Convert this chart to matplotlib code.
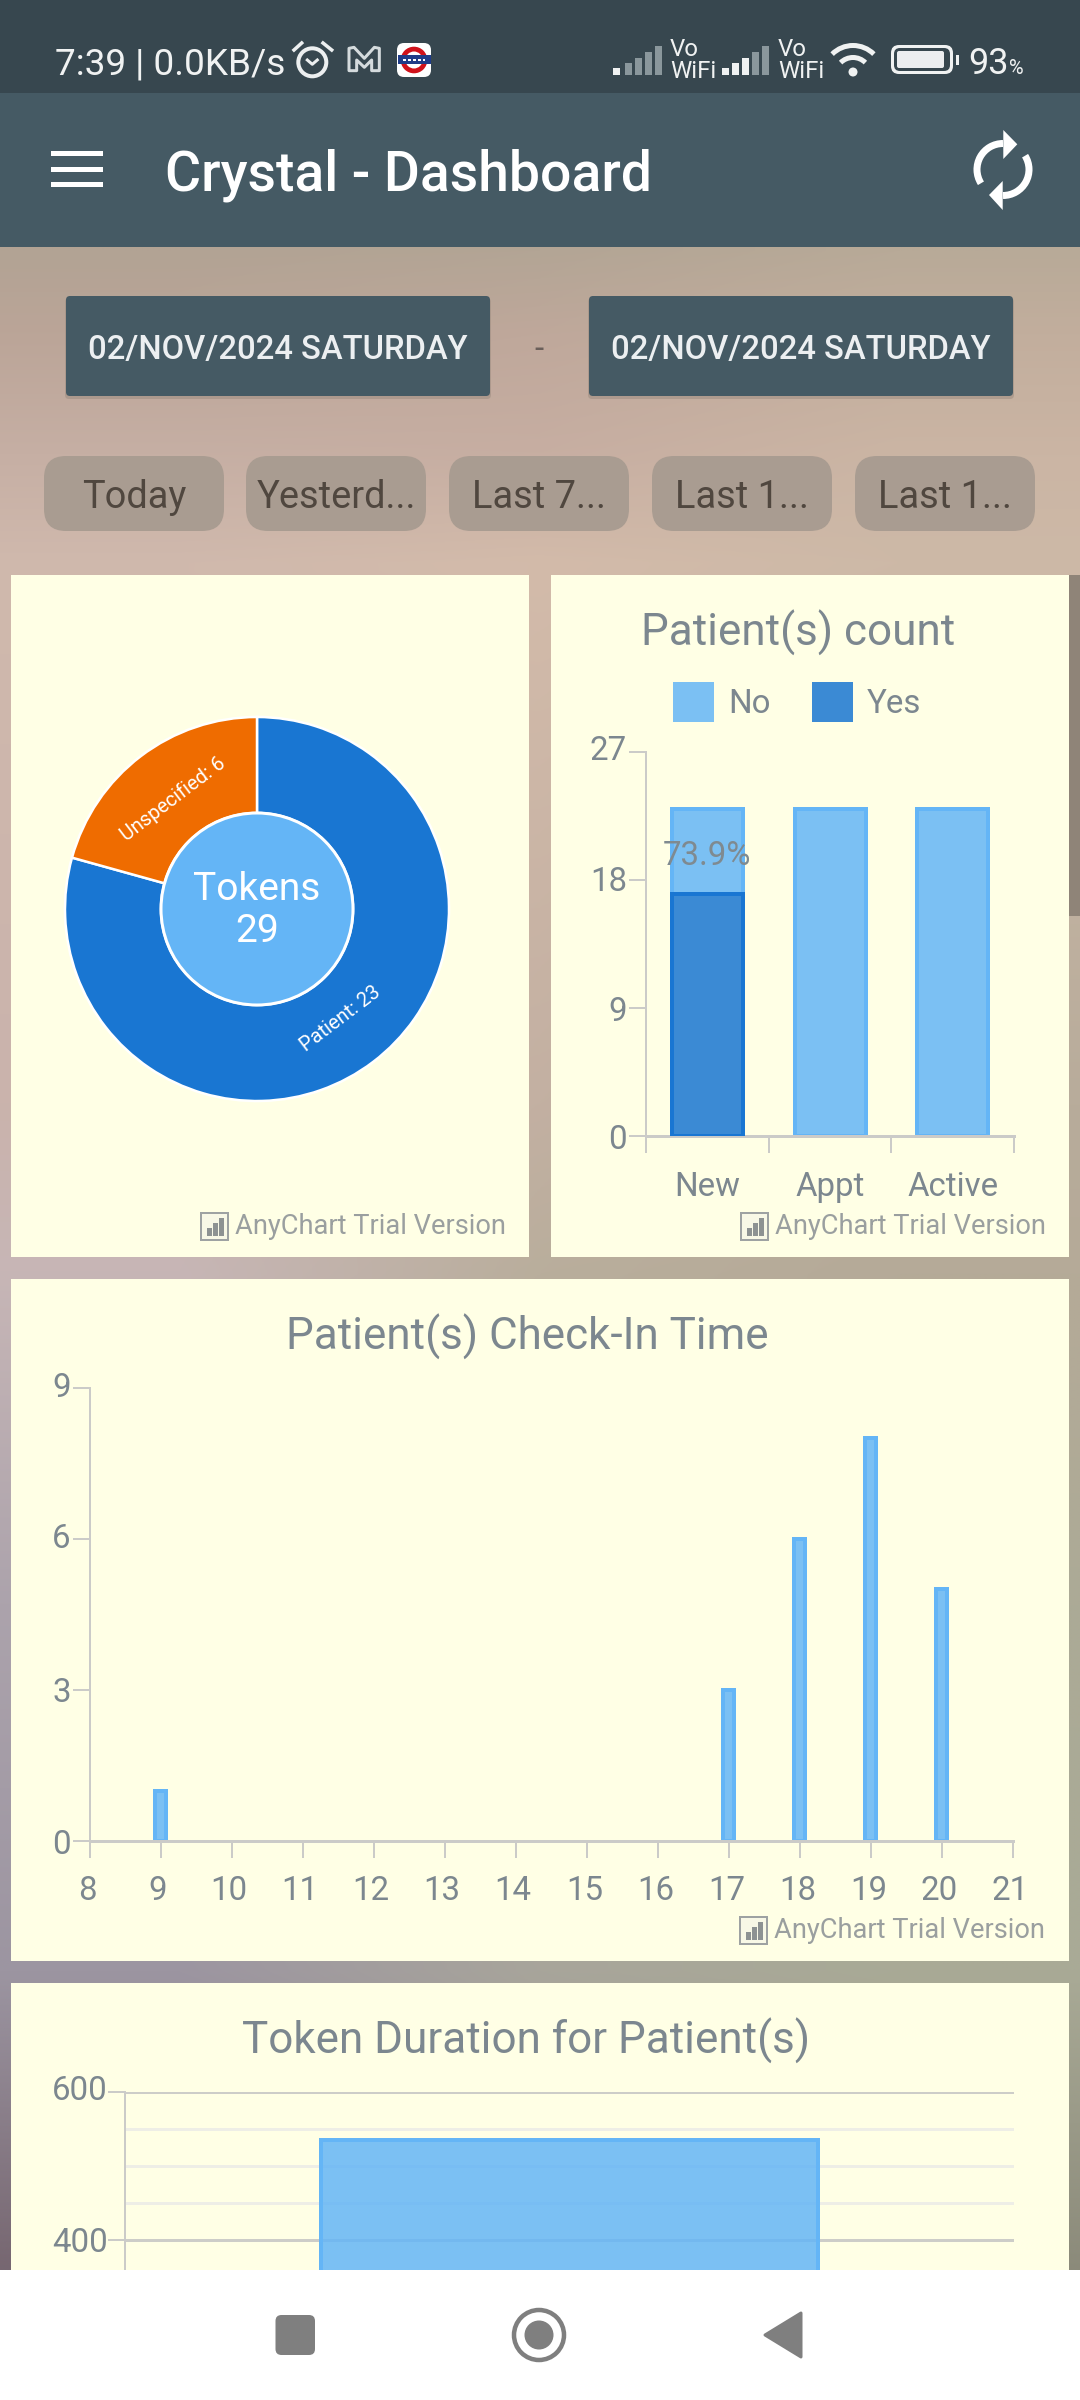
import numpy as np
import matplotlib
matplotlib.use("Agg")
import matplotlib.pyplot as plt
from matplotlib.colors import to_rgb
from matplotlib.patches import (Rectangle, FancyBboxPatch, Circle, Polygon, Arc, Patch)
from matplotlib.transforms import ScaledTranslation

W, H = 1080, 2400
plt.rcParams['font.family'] = ['Roboto', 'DejaVu Sans']

# ---- data ----
donut_labels = ['Patient', 'Unspecified']
donut_values = [23, 6]
center_title = 'Tokens'
center_value = 29

count_cats = ['New', 'Appt', 'Active']
count_yes = [17, 0, 0]
count_no = [6, 23, 23]
count_ticks = [0, 9, 18, 27]
count_note = '73.9%'

hours = [9, 17, 18, 19, 20]
checkins = [1, 3, 6, 8, 5]
hour_ticks = list(range(8, 22))
checkin_ticks = [0, 3, 6, 9]

duration_values = [535]
duration_major = [400, 600]
duration_minor = [450, 500, 550]

date_label = '02/NOV/2024 SATURDAY'
chip_labels = ['Today', 'Yesterd...', 'Last 7...', 'Last 1...', 'Last 1...']

# ---- styles ----
CARD = '#FFFFE5'
TXT = '#7C878F'
AXC = '#CBCBC8'
NOFILL, NOEDGE = '#64B5F6', '#64B5F6'
YESFILL, YESEDGE = '#1976D2', '#1976D2'
ICON = '#ECEFF0'
DIM = '#8A979C'
def px(v): return v * 0.72

fig = plt.figure(figsize=(W / 100, H / 100), dpi=100, facecolor='white')

def axes_px(l, t, r, b, z=1):
    ax = fig.add_axes([l / W, 1 - b / H, (r - l) / W, (b - t) / H], zorder=z)
    ax.patch.set_alpha(0)
    return ax

def nudge(label, dx, dy):
    label.set_transform(label.get_transform() + ScaledTranslation(dx / 100, dy / 100, fig.dpi_scale_trans))

# ---- background layer ----
bg = axes_px(0, 0, W, H, 0)
bg.axis('off')
bg_y = [247, 330, 450, 560, 1100, 1270, 1600, 1970, 2270]
bg_rows = [['#B2A394', '#B3A595', '#B8AA98'],
           ['#BBA598', '#BFA89B', '#C2AE9D'],
           ['#C6AFA4', '#C7AEA2', '#CBB5A4'],
           ['#D0B9AD', '#D3BBAA', '#CDB9A7'],
           ['#CAB3AC', '#C3B0A2', '#B8AC9B'],
           ['#C7B6B6', '#B9AE9C', '#B5AA98'],
           ['#ACA3AC', '#AEA79B', '#ACAA96'],
           ['#9C95A1', '#A8A59B', '#A9AA96'],
           ['#766670', '#8F8E80', '#8B8A7A']]
anchors = np.array([[to_rgb(c) for c in r] for r in bg_rows])
yy = np.arange(247, 2271, 8)
grid = np.stack([np.stack([np.interp(yy, bg_y, anchors[:, j, ch]) for ch in range(3)], axis=1)
                 for j in range(3)], axis=1)
bg.imshow(grid, extent=(0, W, 2270, 247), aspect='auto', interpolation='bilinear', zorder=0)
bg.set_xlim(0, W); bg.set_ylim(H, 0)

def rrect(ax, l, t, r, b, rad, fc, z=2, **kw):
    p = FancyBboxPatch((l + rad, t + rad), r - l - 2 * rad, b - t - 2 * rad,
                       boxstyle=f'round,pad={rad},rounding_size={rad}', fc=fc, ec='none',
                       zorder=z, **kw)
    ax.add_patch(p)
    return p

# top bars
bg.add_patch(Rectangle((0, 0), W, 93, fc='#37474F', ec='none', zorder=1))
bg.add_patch(Rectangle((0, 93), W, 154, fc='#455A64', ec='none', zorder=1))

# scrollbar
bg.add_patch(Rectangle((1069, 575), 11, 341, fc='#8F8478', ec='none', zorder=1))

# cards
for (l, t, r, b) in [(11, 575, 529, 1257), (551, 575, 1069, 1257),
                     (11, 1279, 1069, 1961), (11, 1983, 1069, 2290)]:
    bg.add_patch(Rectangle((l, t), r - l, b - t, fc=CARD, ec='none', zorder=2))

def T(x, y, s, size, color='white', ha='left', va='center', weight='normal', ax=bg, **kw):
    return ax.text(x, y, s, fontsize=px(size), color=color, ha=ha, va=va, weight=weight, zorder=6, **kw)

# status bar
T(55, 75, '7:39 | 0.0KB/s', 37, '#F0F2F2', va='baseline')
# alarm clock
bg.add_patch(Circle((312.3, 62.3), 14, fc='none', ec=ICON, lw=px(4), zorder=6))
bg.plot([294, 301.7], [50, 43], color=ICON, lw=px(3.5), zorder=6)
bg.plot([323, 331.7], [43, 50], color=ICON, lw=px(3.5), zorder=6)
bg.plot([307.3, 312.3, 317.3], [60, 64.3, 60], color=ICON, lw=px(3), zorder=6)
# M icon
m_pts = [(207, 122), (207, 55), (222, 52), (253, 85), (283, 52), (298, 55), (298, 122),
         (275, 122), (275, 90), (253, 112), (230, 90), (230, 122)]
bg.add_patch(Polygon([(280 + a / 3, 30 + b / 3) for a, b in m_pts], closed=True, fc='none',
                     ec='#D5DBDD', lw=px(3), joinstyle='round', zorder=6))
# metro icon
rrect(bg, 397, 43, 431, 77, 7, 'white', 6)
bg.add_patch(Circle((414, 60), 13.3, fc='#D0121B', ec='none', zorder=7))
bg.add_patch(Circle((414, 60), 8.5, fc='white', ec='none', zorder=7))
bg.add_patch(Rectangle((397.5, 55), 33, 9, fc='#1F3C88', ec='none', zorder=8))
bg.plot([403, 425], [60, 60], color='white', lw=px(2), ls=(0, (1.5, 1)), zorder=9)
# signal bars
bar_tops = [68, 63, 58, 52, 46]
for x0s, bright in (((613, 625, 635, 645, 655), 1), ((722, 732, 742, 752, 762), 3)):
    for i, (x0, tp) in enumerate(zip(x0s, bar_tops)):
        c = '#F0F2F2' if i < bright else DIM
        bg.add_patch(Rectangle((x0, tp), 6.5, 75 - tp, fc=c, ec='none', zorder=6))
for xv in (670, 778):
    T(xv, 50, 'Vo', 24, '#F0F2F2')
    T(xv, 71, 'WiFi', 24, '#F0F2F2')
# wifi
for r in (29.5, 17.5):
    bg.add_patch(Arc((853, 75), 2 * r, 2 * r, theta1=225, theta2=315, color='#F0F2F2', lw=px(5), zorder=6))
bg.add_patch(Circle((853, 72), 4.5, fc='#F0F2F2', ec='none', zorder=6))
# battery
rrect(bg, 891, 45, 953, 74, 8, '#F0F2F2', 6)
rrect(bg, 894, 48, 950, 71, 6, '#37474F', 6.5)
rrect(bg, 897, 51, 944, 68, 2, '#ECEEF0', 7)
bg.add_patch(Rectangle((956, 55), 3, 10, fc='#F0F2F2', ec='none', zorder=6))
T(968, 74, '93', 36, '#F0F2F2', va='baseline')
T(1009, 74, '%', 20, '#F0F2F2', va='baseline')

# app bar
for y in (153, 169, 184):
    bg.add_patch(Rectangle((51, y - 2.5), 52, 5, fc='white', ec='none', zorder=6))
T(165, 191, 'Crystal - Dashboard', 55.2, 'white', va='baseline', weight='medium')
# refresh icon
bg.add_patch(Arc((1003, 169.5), 52, 52, theta1=148, theta2=270, color='white', lw=px(7), zorder=6))
bg.add_patch(Arc((1003, 169.5), 52, 52, theta1=-32, theta2=90, color='white', lw=px(7), zorder=6))
bg.add_patch(Polygon([[1003.3, 130], [1017.3, 144.3], [1003.3, 159]], fc='white', ec='none', zorder=6))
bg.add_patch(Polygon([[1002.7, 181], [989, 195], [1002.7, 210]], fc='white', ec='none', zorder=6))

# date buttons
for l in (66, 589):
    rrect(bg, l - 1, 298, l + 425, 399, 4, '#A08F83', 2.5, alpha=0.6)
    rrect(bg, l, 296, l + 424, 396, 4, '#455A64', 3)
    T(l + 212, 350, date_label, 32.8, '#ECEFF1', ha='center', weight='medium')
T(539, 350, '-', 33, '#6A5F5A', ha='center')

# chips
for (l, s) in zip((44, 246, 449, 652, 855), chip_labels):
    rrect(bg, l, 456, l + 180, 531, 22, '#A99C91', 3)
    T(l + 90, 498, s, 38, '#50473F', ha='center')

# ---- donut ----
cx, cy, R = 257, 909, 192
a1 = axes_px(cx - R, cy - R, cx + R, cy + R, 2)
wedges, _ = a1.pie(donut_values, colors=['#1976D2', '#EF6C00'], startangle=90, counterclock=False,
                   radius=1.0, wedgeprops=dict(width=1 - 96 / R, edgecolor='white', linewidth=px(2.5)))
a1.set_xlim(-1, 1); a1.set_ylim(-1, 1); a1.set_aspect('auto')
for w in wedges:
    w.set_clip_on(False)
a1.add_patch(Circle((0, 0), 96 / R, fc='#64B5F6', ec='white', lw=px(3), zorder=5, clip_on=False))
a1.text(0, 20 / R, center_title, color='white', fontsize=px(39), ha='center', va='center', zorder=6)
a1.text(0, -23 / R, str(center_value), color='white', fontsize=px(39), ha='center', va='center', zorder=6)
for w, lab, v in zip(wedges, donut_labels, donut_values):
    mid = np.deg2rad((w.theta1 + w.theta2) / 2)
    r = 138 / R
    rot = np.rad2deg(mid) % 180 - 90
    a1.text(r * np.cos(mid), r * np.sin(mid), f'{lab}: {v}', color='white', fontsize=px(20),
            rotation=rot, rotation_mode='anchor', ha='center', va='center', zorder=6)

# ---- shared chart styling ----
def style(ax, left_lw=2.0, bottom_lw=3.0):
    for s in ('top', 'right'):
        ax.spines[s].set_visible(False)
    ax.spines['left'].set_color(AXC); ax.spines['left'].set_linewidth(px(left_lw))
    ax.spines['bottom'].set_color(AXC); ax.spines['bottom'].set_linewidth(px(bottom_lw))
    ax.tick_params(axis='y', length=px(17), width=px(2), color=AXC, labelcolor=TXT,
                   labelsize=px(33), pad=px(2))
    ax.tick_params(axis='x', labelcolor=TXT, labelsize=px(33))

def title(ax, box, s, cxp, base):
    l, t, r, b = box
    ax.set_title(s, x=(cxp - l) / (r - l), y=(b - base) / (b - t), color=TXT, fontsize=px(44),
                 ha='center', va='baseline', pad=0)

def trial(ax, il, yc):
    ax.add_patch(Rectangle((il, yc - 13.5), 27, 27, fc='#F8F8E6', ec='#9EA2A2', lw=px(2), zorder=6))
    for dx, h in ((6, 8), (12, 13), (18, 18)):
        ax.add_patch(Rectangle((il + dx, yc + 10 - h), 4.5, h, fc='#8D9292', ec='none', zorder=7))
    T(il + 34, yc, 'AnyChart Trial Version', 27.3, '#9A9F9F', ax=ax)

# ---- count chart ----
box2 = (646, 752, 1014, 1136)
a2 = axes_px(*box2, 2)
xs = np.arange(len(count_cats)) + 0.5
bw = 71 / (368 / 3)
a2.bar(xs, count_no, bw, bottom=count_yes, color=NOFILL, alpha=0.85, edgecolor='none', zorder=2)
a2.bar(xs, count_no, bw, bottom=count_yes, fill=False, edgecolor=NOEDGE, linewidth=px(4), zorder=2.5)
a2.bar(xs[:1], count_yes[:1], bw, color=YESFILL, alpha=0.85, edgecolor='none', zorder=3)
a2.bar(xs[:1], count_yes[:1], bw, fill=False, edgecolor=YESEDGE, linewidth=px(4), zorder=3.5)
a2.set_xlim(0, 3); a2.set_ylim(0, 27)
a2.set_yticks(count_ticks)
a2.set_xticks(xs); a2.set_xticklabels(count_cats)
a2.set_xticks([0, 1, 2, 3], minor=True)
style(a2)
a2.tick_params(axis='x', which='major', length=0, pad=px(35))
a2.tick_params(axis='x', which='minor', length=px(17), width=px(2), color=AXC)
a2.text(xs[0], 19.7, count_note, color='#7F8A90', fontsize=px(33), ha='center', va='center', zorder=5)
title(a2, box2, 'Patient(s) count', 798, 646)
leg = a2.legend(handles=[Patch(fc=NOFILL, alpha=0.85, label='No'), Patch(fc=YESFILL, alpha=0.85, label='Yes')],
                ncol=2, loc='center', bbox_to_anchor=((797 - 646) / 368, (1136 - 702) / 384),
                frameon=False, fontsize=px(33), handlelength=41 / 33, handleheight=1.534,
                handletextpad=14 / 33, columnspacing=1.26, labelcolor=TXT)

# ---- check-in chart ----
box3 = (89.5, 1388, 1013, 1841)
a3 = axes_px(*box3, 2)
a3.bar(hours, checkins, 0.155, color=NOFILL, alpha=0.85, edgecolor='none', zorder=2)
a3.bar(hours, checkins, 0.155, fill=False, edgecolor=NOEDGE, linewidth=px(4), zorder=2.5)
a3.set_xlim(8, 21); a3.set_ylim(0, 9)
a3.set_xticks(hour_ticks); a3.set_yticks(checkin_ticks)
style(a3)
a3.tick_params(axis='x', length=px(17), width=px(2), color=AXC, pad=px(17))
title(a3, box3, 'Patient(s) Check-In Time', 527, 1350)

# ---- duration chart ----
box4 = (125, 2092, 1014, 2536)
a4 = axes_px(*box4, 2)
a4.bar([0], duration_values, 0.56, color=NOFILL, alpha=0.85, edgecolor='none', zorder=3)
a4.bar([0], duration_values, 0.56, fill=False, edgecolor=NOEDGE, linewidth=px(4), zorder=3.5)
a4.set_xlim(-0.5, 0.5); a4.set_ylim(0, 600)
a4.set_yticks(duration_major); a4.set_yticks(duration_minor, minor=True)
a4.set_xticks([])
style(a4)
a4.spines['bottom'].set_visible(False)
a4.tick_params(axis='y', which='major', pad=0)
a4.tick_params(axis='y', which='minor', length=0)
a4.grid(axis='y', which='major', color='#CDCDC8', linewidth=px(3), zorder=1)
a4.grid(axis='y', which='minor', color='#EEEEE6', linewidth=px(3), zorder=1)
a4.set_axisbelow(True)
title(a4, box4, 'Token Duration for Patient(s)', 526, 2054)

# label offsets seen in the reference
fig.canvas.draw()
for lab, dy in zip(a2.get_yticklabels(), (0, 0, 1.5, 4)):
    nudge(lab, 0, dy)
for lab, dy in zip(a3.get_yticklabels(), (0, 0, 3, 4)):
    nudge(lab, 0, dy)
for lab, dy in zip(a4.get_yticklabels(), (1, 5)):
    nudge(lab, 0, dy)
for lab in a3.get_xticklabels():
    nudge(lab, -2.5, 0)

# ---- overlay: trial marks and nav bar ----
top = axes_px(0, 0, W, H, 5)
top.set_xlim(0, W); top.set_ylim(H, 0); top.axis('off')
trial(top, 201, 1226)
trial(top, 741, 1226)
trial(top, 740, 1930)
top.add_patch(Rectangle((0, 2270), W, 130, fc='white', ec='none', zorder=5))
rrect(top, 275.5, 2315, 315, 2355, 6, '#7F7F7F', 6)
top.add_patch(Circle((539, 2335), 25, fc='white', ec='#7F7F7F', lw=px(4.5), zorder=6))
top.add_patch(Circle((539, 2335), 14.5, fc='#7F7F7F', ec='none', zorder=7))
top.add_patch(Polygon([[801, 2313], [801, 2357], [765, 2335]], fc='#7F7F7F', ec='#7F7F7F',
                      lw=px(3), joinstyle='round', zorder=6))

fig.savefig('out.png', dpi=100)
